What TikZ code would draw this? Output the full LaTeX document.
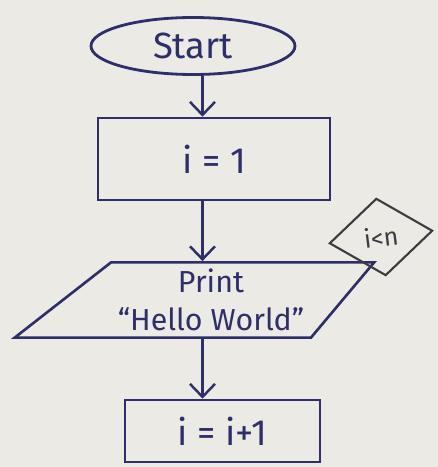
\documentclass[tikz,border=0pt]{standalone}
\usepackage{fontspec}
\setmainfont{Fira Sans}
\usetikzlibrary{arrows.meta,positioning,shapes.geometric}
\definecolor{InkBlue}{RGB}{46,46,106}
\definecolor{PencilGray}{RGB}{60,60,64}
\definecolor{PaperWhite}{RGB}{236,234,229}
\tikzset{
  terminal/.style={draw=InkBlue,ellipse,line width=1.6pt,minimum width=4.08cm,
    minimum height=1.14cm,text=InkBlue,font=\huge},
  process/.style={draw=InkBlue,line width=1.5pt,text=InkBlue,font=\huge},
  io/.style={draw=InkBlue,trapezium,trapezium left angle=38,trapezium right angle=130,
    line width=1.5pt,text=InkBlue,font=\LARGE,align=center},
  decision/.style={draw=PencilGray,diamond,line width=1.2pt,text=PencilGray,font=\Large},
  arrow/.style={-{Straight Barb[length=2.6mm,width=5mm]},line width=1.4pt,InkBlue}
}
\begin{document}
\begin{tikzpicture}
  \fill[PaperWhite] (0,0) rectangle (8.76,9.34);
  \useasboundingbox (0,0) rectangle (8.76,9.34);
  \coordinate (spine) at (4.05,0);
  \node[terminal] (start) at (3.86,8.42) {Start};
  \node[process,minimum width=4.64cm,minimum height=1.64cm] (init) at (4.28,6.16) {i = 1};
  \node[io,minimum width=7.2cm,minimum height=1.36cm] (print) at (4.22,3.34) {Print\\“Hello World”};
  \node[decision,minimum width=2.08cm,minimum height=1.52cm,rotate=7] (cond) at (7.62,4.6) {i<n};
  \node[process,minimum width=3.9cm,minimum height=1.24cm] (incr) at (4.45,0.72) {i = i+1};
  \draw[arrow] (start.south -| spine) -- (init.north -| spine);
  \draw[arrow] (init.south -| spine) -- (print.north -| spine);
  \draw[arrow] (print.south -| spine) -- (incr.north -| spine);
\end{tikzpicture}
\end{document}
